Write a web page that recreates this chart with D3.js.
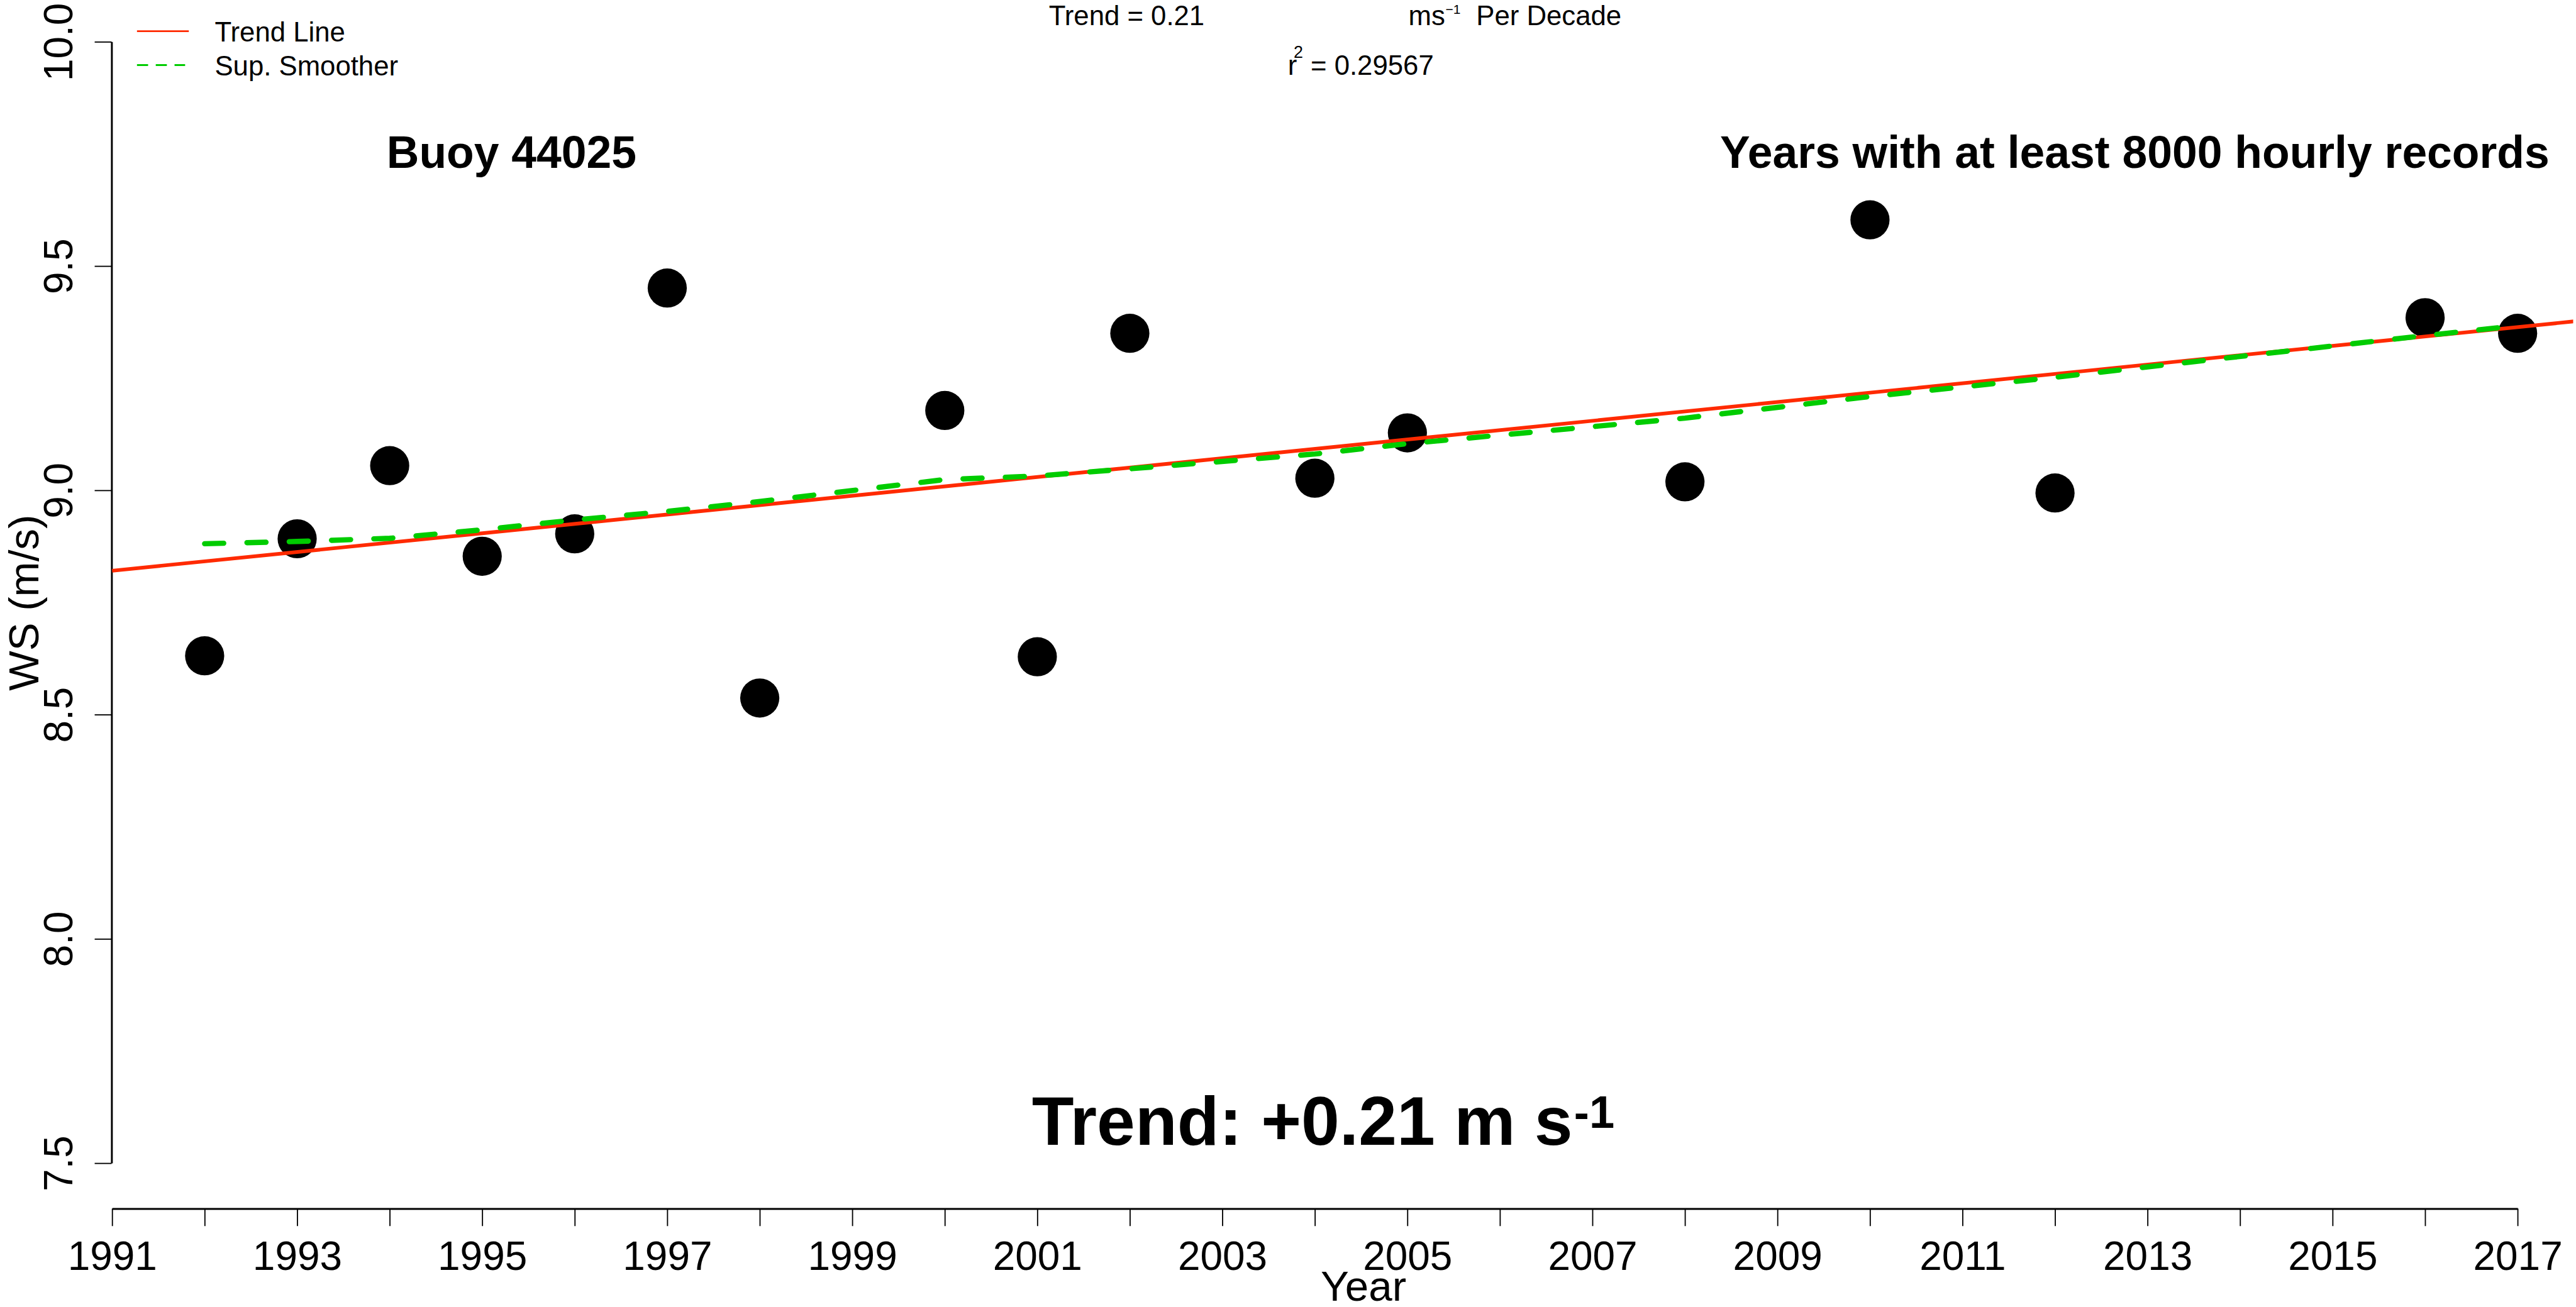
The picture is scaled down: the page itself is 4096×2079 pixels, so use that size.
<!DOCTYPE html>
<html>
<head>
<meta charset="utf-8">
<script src="https://cdn.jsdelivr.net/npm/d3@7"></script>
<style>
  html, body { margin: 0; padding: 0; background: #ffffff; }
  svg { display: block; }
  text { font-family: "Liberation Sans", Arial, Helvetica, sans-serif; fill: #000; }
</style>
</head>
<body>
<div id="chart"></div>
<script>
// Annual mean wind speed, buoy 44025
var years = [1992, 1993, 1994, 1995, 1996, 1997, 1998, 2000, 2001, 2002, 2004, 2005, 2008, 2010, 2012, 2016, 2017];
var windSpeed = [8.631, 8.892, 9.055, 8.853, 8.903, 9.451, 8.537, 9.178, 8.629, 9.350, 9.027, 9.128, 9.019, 9.603, 8.994, 9.385, 9.350];

// super smoother values at the same years
var smoothSpeed = [8.881, 8.886, 8.893, 8.912, 8.934, 8.953, 8.975, 9.024, 9.032, 9.048, 9.081, 9.104, 9.161, 9.209, 9.252, 9.345, 9.367];

// axis ticks
var xTickYears = [1991, 1992, 1993, 1994, 1995, 1996, 1997, 1998, 1999, 2000, 2001, 2002, 2003, 2004, 2005, 2006, 2007, 2008, 2009, 2010, 2011, 2012, 2013, 2014, 2015, 2016, 2017];
var xLabelYears = [1991, 1993, 1995, 1997, 1999, 2001, 2003, 2005, 2007, 2009, 2011, 2013, 2015, 2017];
var yTicks = [7.5, 8.0, 8.5, 9.0, 9.5, 10.0];

var legendLabels = ["Trend Line", "Sup. Smoother"];

// drawn in reference pixels, then scaled to the window
var scaleFactor = 0.841;
var W = 4865, H = 2469;

var svg = d3.select("#chart")
    .append("svg")
    .attr("width", 4096)
    .attr("height", 2079);

var g = svg.append("g")
    .attr("transform", "scale(" + scaleFactor + ")");

var x = d3.scaleLinear().domain([1991, 2017]).range([212, 4760]);
var y = d3.scaleLinear().domain([7.5, 10]).range([2200, 79]);

// ***** TREND (least squares) *****
var mx = d3.mean(years), my = d3.mean(windSpeed);
var sxy = 0, sxx = 0;
years.forEach(function(yr, i) {
    sxy += (yr - mx) * (windSpeed[i] - my);
    sxx += (yr - mx) * (yr - mx);
});
var slope = sxy / sxx;
var intercept = my - slope * mx;
var trendEnds = [1991, 2019];

g.append("clipPath")
    .attr("id", "plotClip")
    .append("rect")
    .attr("x", 211)
    .attr("y", 0)
    .attr("width", W - 211)
    .attr("height", 2286);

// ***** AXES *****
var xAxis = d3.axisBottom(x)
    .tickValues(xTickYears)
    .tickSize(33)
    .tickSizeOuter(0)
    .tickFormat(function(d) { return xLabelYears.indexOf(d) >= 0 ? d : ""; });

var xg = g.append("g")
    .attr("transform", "translate(0,2286)")
    .call(xAxis);
xg.select(".domain").attr("stroke", "#000").attr("stroke-width", 3.5);
xg.selectAll(".tick line").attr("stroke", "#000").attr("stroke-width", 2.2);
xg.selectAll(".tick text")
    .attr("y", 116)
    .attr("dy", 0)
    .style("font-size", "76px")
    .style("font-family", "'Liberation Sans', Arial, sans-serif");

var yAxis = d3.axisLeft(y)
    .tickValues(yTicks)
    .tickSize(32)
    .tickSizeOuter(0)
    .tickFormat(d3.format(".1f"));

var yg = g.append("g")
    .attr("transform", "translate(211,0)")
    .call(yAxis);
yg.select(".domain").attr("stroke", "#000").attr("stroke-width", 3.5);
yg.selectAll(".tick line").attr("stroke", "#000").attr("stroke-width", 2.2);
yg.selectAll(".tick text")
    .attr("x", null)
    .attr("dy", 0)
    .attr("text-anchor", "middle")
    .attr("transform", "translate(-74,0) rotate(-90)")
    .style("font-size", "76px")
    .style("font-family", "'Liberation Sans', Arial, sans-serif");

// axis titles
g.append("text")
    .attr("transform", "translate(72,1140) rotate(-90)")
    .attr("text-anchor", "middle")
    .style("font-size", "80px")
    .text("WS (m/s)");

g.append("text")
    .attr("x", 2578)
    .attr("y", 2460)
    .attr("text-anchor", "middle")
    .style("font-size", "80px")
    .text("Year");

// ***** POINTS *****
g.selectAll(".dot")
    .data(years)
    .enter()
    .append("circle")
    .attr("class", "dot")
    .attr("cx", function(d) { return x(d); })
    .attr("cy", function(d, i) { return y(windSpeed[i]); })
    .attr("r", 37)
    .attr("fill", "#000");

// ***** LINES *****
g.append("line")
    .attr("clip-path", "url(#plotClip)")
    .attr("x1", x(trendEnds[0]))
    .attr("y1", y(intercept + slope * trendEnds[0]))
    .attr("x2", x(trendEnds[1]))
    .attr("y2", y(intercept + slope * trendEnds[1]))
    .attr("stroke", "#ff2a00")
    .attr("stroke-width", 7);

var smoothLine = d3.line()
    .x(function(d) { return x(d); })
    .y(function(d, i) { return y(smoothSpeed[i]); });

g.append("path")
    .attr("d", smoothLine(years))
    .attr("fill", "none")
    .attr("stroke", "#00cc00")
    .attr("stroke-width", 10)
    .attr("stroke-linecap", "round")
    .attr("stroke-dasharray", "36 44");

// ***** LEGEND *****
g.append("line")
    .attr("x1", 259).attr("x2", 357)
    .attr("y1", 59).attr("y2", 59)
    .attr("stroke", "#ff2a00")
    .attr("stroke-width", 3.5);

g.append("line")
    .attr("x1", 259).attr("x2", 350)
    .attr("y1", 123).attr("y2", 123)
    .attr("stroke", "#00cc00")
    .attr("stroke-width", 3.5)
    .attr("stroke-dasharray", "21 14.5");

g.selectAll(".legendText")
    .data(legendLabels)
    .enter()
    .append("text")
    .attr("class", "legendText")
    .attr("x", 406)
    .attr("y", function(d, i) { return 78 + i * 65; })
    .style("font-size", "52px")
    .text(function(d) { return d; });

// ***** TOP STATS *****
g.append("text")
    .attr("x", 1983)
    .attr("y", 47)
    .style("font-size", "52px")
    .text("Trend = " + (slope * 10).toFixed(2));

var units = g.append("text")
    .attr("x", 2663)
    .attr("y", 47)
    .style("font-size", "52px");
units.append("tspan").text("ms");
units.append("tspan")
    .attr("x", 2733)
    .attr("y", 26)
    .style("font-size", "25px")
    .text("\u22121");
units.append("tspan")
    .attr("x", 2791)
    .attr("y", 47)
    .text("Per Decade");

var rsq = g.append("text")
    .attr("x", 2435)
    .attr("y", 142)
    .style("font-size", "52px");
rsq.append("tspan").text("r");
rsq.append("tspan")
    .attr("x", 2446)
    .attr("y", 110)
    .style("font-size", "32px")
    .text("2");
rsq.append("tspan")
    .attr("x", 2478)
    .attr("y", 142)
    .text("= 0.29567");

// ***** ANNOTATIONS *****
g.append("text")
    .attr("x", 731)
    .attr("y", 317)
    .style("font-size", "85px")
    .style("font-weight", "bold")
    .text("Buoy 44025");

g.append("text")
    .attr("x", 3252)
    .attr("y", 317)
    .style("font-size", "85px")
    .style("font-weight", "bold")
    .text("Years with at least 8000 hourly records");

var big = g.append("text")
    .attr("x", 1951)
    .attr("y", 2165)
    .style("font-size", "130px")
    .style("font-weight", "bold");
big.append("tspan").text("Trend: +0.21 m s");
big.append("tspan")
    .attr("x", 2976)
    .attr("y", 2133)
    .style("font-size", "86px")
    .text("-1");
</script>
</body>
</html>
